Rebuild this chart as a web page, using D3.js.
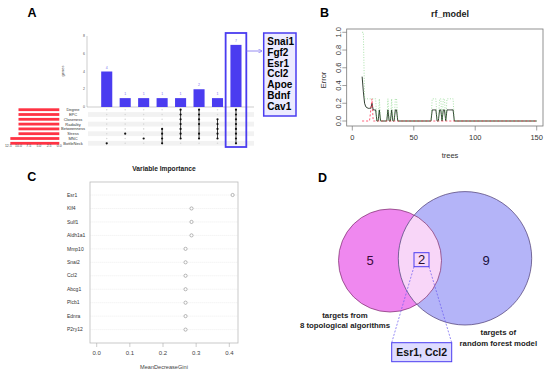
<!DOCTYPE html>
<html>
<head>
<meta charset="utf-8">
<script src="https://cdn.jsdelivr.net/npm/d3@7"></script>
<style>
body { margin: 0; background: #fff; }
svg { display: block; font-family: "Liberation Sans", Arial, sans-serif; }
</style>
</head>
<body>
<svg id="fig" width="550" height="375"></svg>
<script>
/* PANEL A DATA (UPSET PLOT) */
var setNames = ["Degree", "EPC", "Closeness", "Radiality", "Betweenness", "Stress", "MNC", "BottleNeck"];
var setSizes = [10, 10, 10, 10, 10, 10, 12, 12];
var sizeTicks = [12.5, 10, 7.5, 5, 2.5, 0];
var interCounts = [4, 1, 1, 1, 1, 2, 1, 7];
var interSets = [
  ["BottleNeck"],
  ["Stress"],
  ["MNC"],
  ["Betweenness", "Stress", "MNC", "BottleNeck"],
  ["Degree", "EPC", "Closeness", "Radiality", "Betweenness", "Stress", "MNC"],
  ["Degree", "EPC", "Closeness", "Radiality", "Stress", "MNC"],
  ["Closeness", "Radiality", "Betweenness", "Stress", "MNC"],
  ["Degree", "EPC", "Closeness", "Radiality", "Betweenness", "Stress", "MNC", "BottleNeck"]
];
var genesTicks = [0, 2, 4, 6, 8];
var hubGenes = ["Snai1", "Fgf2", "Esr1", "Ccl2", "Apoe", "Bdnf", "Cav1"];

/* PANEL B DATA (RF ERROR BY NUMBER OF TREES) */
var treeIdx   = [8, 9, 10, 11, 12, 13, 14, 15, 16, 17, 18, 19, 20, 21, 22, 23, 28, 29, 30, 31, 32, 33, 34, 35, 36, 37,
                 64, 65, 66, 67, 68, 69, 70, 71, 72, 73, 74, 75, 76, 77, 78, 79, 80, 81, 82, 83, 150];
var oobErr    = [0.5, 0.33, 0.2, 0.16, 0.15, 0.143, 0.143, 0.143, 0.2, 0.125, 0.125, 0.125, 0, 0, 0.125, 0, 0, 0.125, 0, 0, 0.125, 0, 0, 0.125, 0.125, 0,
                 0, 0.125, 0.125, 0.125, 0.125, 0, 0, 0.125, 0.125, 0, 0.125, 0.125, 0, 0.125, 0.125, 0.125, 0.125, 0.125, 0.125, 0, 0];
var errClass1 = [0, 0, 0, 0, 0, 0, 0, 0.12, 0.25, 0, 0, 0, 0, 0, 0, 0, 0, 0, 0, 0, 0, 0, 0, 0, 0, 0,
                 0, 0, 0, 0, 0, 0, 0, 0, 0, 0, 0, 0, 0, 0, 0, 0, 0, 0, 0, 0, 0];
var errClass2 = [1, 1, 0.25, 0.25, 0.25, 0.25, 0.25, 0.25, 0.25, 0.25, 0.25, 0.25, 0, 0, 0.25, 0, 0, 0.25, 0, 0, 0.25, 0, 0, 0.25, 0.25, 0,
                 0, 0.25, 0.25, 0.25, 0.25, 0, 0, 0.25, 0.25, 0, 0.25, 0.25, 0, 0.25, 0.25, 0.25, 0.25, 0.25, 0.25, 0, 0];
var treeTicks = [0, 50, 100, 150];
var errTicks = [0, 0.2, 0.4, 0.6, 0.8, 1.0];

/* PANEL C DATA (VARIABLE IMPORTANCE) */
var impVars = ["Esr1", "Klf4", "Sulf1", "Aldh1a1", "Mmp10", "Snai2", "Ccl2", "Abcg1", "Plcb1", "Ednra", "P2ry12"];
var impGini = [0.41, 0.286, 0.286, 0.286, 0.268, 0.268, 0.268, 0.268, 0.268, 0.268, 0.268];
var giniTicks = [0, 0.1, 0.2, 0.3, 0.4];

/* PANEL D DATA (VENN) */
var vennCounts = { topo: 5, both: 2, rf: 9 };
var sharedGenes = ["Esr1", "Ccl2"];

var blue = "#4a3cf0";
var svg = d3.select("#fig");
svg.append("rect").attr("width", 550).attr("height", 375).attr("fill", "#fff");

function panelLetter(txt, x, y) {
  svg.append("text").attr("x", x).attr("y", y)
    .attr("font-size", 12.5).attr("font-weight", "bold").text(txt);
}

/* ---------- A ---------- */
var gA = svg.append("g");
var colX = d3.scaleBand().domain(d3.range(interCounts.length))
  .range([97.5, 245.2]).paddingInner(0.4).paddingOuter(0.2);
var barY = d3.scaleLinear().domain([0, 8]).range([107, 36]);
var rowY = d3.scalePoint().domain(setNames).range([109.7, 143.3]);
var sizeX = d3.scaleLinear().domain([0, 12.5]).range([59.3, 8.3]);
var rowStep = rowY.step();

// matrix row shading
gA.selectAll("rect.band").data(setNames.filter(function(d, i) { return i % 2 === 1; }))
  .enter().append("rect")
  .attr("x", 88).attr("width", 166)
  .attr("y", function(d) { return rowY(d) - rowStep / 2; })
  .attr("height", rowStep).attr("fill", "#f2f2f2");

// bar axis
gA.append("line").attr("x1", 87).attr("x2", 87).attr("y1", barY(8)).attr("y2", barY(0))
  .attr("stroke", "#999").attr("stroke-width", 0.5);
gA.append("line").attr("x1", 87).attr("x2", 254).attr("y1", barY(0)).attr("y2", barY(0))
  .attr("stroke", "#999").attr("stroke-width", 0.5);
gA.selectAll("text.gt").data(genesTicks).enter().append("text")
  .attr("x", 85).attr("y", function(d) { return barY(d) + 1.2; })
  .attr("text-anchor", "end").attr("font-size", 3.5).attr("fill", "#555")
  .text(function(d) { return d; });
gA.append("text").attr("transform", "translate(64,71) rotate(-90)")
  .attr("text-anchor", "middle").attr("font-size", 4).attr("fill", "#444").text("genes");

// intersection bars
gA.selectAll("rect.bar").data(interCounts).enter().append("rect")
  .attr("x", function(d, i) { return colX(i); })
  .attr("width", colX.bandwidth())
  .attr("y", function(d) { return barY(d); })
  .attr("height", function(d) { return barY(0) - barY(d); })
  .attr("fill", blue);
gA.selectAll("text.bv").data(interCounts).enter().append("text")
  .attr("x", function(d, i) { return colX(i) + colX.bandwidth() / 2; })
  .attr("y", function(d) { return barY(d) - 3; })
  .attr("text-anchor", "middle").attr("font-size", 3.5).attr("fill", "#7a70f0")
  .text(function(d) { return d; });

// matrix dots
interSets.forEach(function(members, i) {
  var cx = colX(i) + colX.bandwidth() / 2;
  setNames.forEach(function(s) {
    var on = members.indexOf(s) >= 0;
    gA.append("circle").attr("cx", cx).attr("cy", rowY(s))
      .attr("r", on ? 1.1 : 0.8).attr("fill", on ? "#111" : "#d8d8d8");
  });
  if (members.length > 1) {
    var ys = members.map(function(s) { return rowY(s); });
    gA.append("line").attr("x1", cx).attr("x2", cx)
      .attr("y1", d3.min(ys)).attr("y2", d3.max(ys))
      .attr("stroke", "#111").attr("stroke-width", 0.8);
  }
});

// set size bars
gA.selectAll("rect.ss").data(setSizes).enter().append("rect")
  .attr("x", function(d) { return sizeX(d); })
  .attr("width", function(d) { return sizeX(0) - sizeX(d); })
  .attr("y", function(d, i) { return rowY(setNames[i]) - 1.4; })
  .attr("height", 2.8).attr("fill", "#ff3344");
gA.selectAll("text.st").data(sizeTicks).enter().append("text")
  .attr("x", function(d) { return sizeX(d); }).attr("y", 147)
  .attr("text-anchor", "middle").attr("font-size", 3.5).attr("fill", "#444")
  .text(d3.format(".1f"));
gA.selectAll("text.sn").data(setNames).enter().append("text")
  .attr("x", 73).attr("y", function(d) { return rowY(d) + 1.4; })
  .attr("text-anchor", "middle").attr("font-size", 4).attr("fill", "#333")
  .text(function(d) { return d; });

// highlight of the full intersection
var last = interCounts.length - 1;
gA.append("rect").attr("x", colX(last) - 4.8).attr("y", 33)
  .attr("width", colX.bandwidth() + 9.6).attr("height", 114)
  .attr("fill", "none").attr("stroke", blue).attr("stroke-width", 1.8);

svg.append("defs").append("marker").attr("id", "arr")
  .attr("viewBox", "0 0 10 10").attr("refX", 9).attr("refY", 5)
  .attr("markerWidth", 5).attr("markerHeight", 5).attr("orient", "auto")
  .append("path").attr("d", "M0,0L10,5L0,10").attr("fill", "none")
  .attr("stroke", "#8a80f0").attr("stroke-width", 1.5);
gA.append("line").attr("x1", 246.5).attr("x2", 262).attr("y1", 51).attr("y2", 51)
  .attr("stroke", "#8a80f0").attr("stroke-width", 0.9).attr("marker-end", "url(#arr)");

gA.append("rect").attr("x", 263.7).attr("y", 33).attr("width", 32.3).attr("height", 83)
  .attr("fill", "#ecebff").attr("stroke", blue).attr("stroke-width", 1.5);
gA.selectAll("text.hub").data(hubGenes).enter().append("text")
  .attr("x", 267.3).attr("y", function(d, i) { return 45.3 + i * 10.7; })
  .attr("font-size", 10).attr("font-weight", "bold").attr("fill", "#000")
  .text(function(d) { return d; });

panelLetter("A", 27.5, 17.3);

/* ---------- B ---------- */
var gB = svg.append("g");
var bx = d3.scaleLinear().domain([0, 150]).range([352.3, 536.7]);
var by = d3.scaleLinear().domain([0, 1]).range([121, 32.3]);

gB.append("rect").attr("x", 346.7).attr("y", 29).attr("width", 196.3).attr("height", 97)
  .attr("fill", "none").attr("stroke", "#777").attr("stroke-width", 0.8);

gB.selectAll("line.xt").data(treeTicks).enter().append("line")
  .attr("x1", bx).attr("x2", bx).attr("y1", 126).attr("y2", 130.5)
  .attr("stroke", "#777").attr("stroke-width", 0.7);
gB.selectAll("text.xt").data(treeTicks).enter().append("text")
  .attr("x", bx).attr("y", 139.5).attr("text-anchor", "middle")
  .attr("font-size", 7.5).attr("fill", "#333").text(function(d) { return d; });
gB.selectAll("line.yt").data(errTicks).enter().append("line")
  .attr("x1", 346.7).attr("x2", 342.3).attr("y1", by).attr("y2", by)
  .attr("stroke", "#777").attr("stroke-width", 0.7);
gB.selectAll("text.yt").data(errTicks).enter().append("text")
  .attr("transform", function(d) { return "translate(338," + by(d) + ") rotate(-90)"; })
  .attr("dy", "0.35em").attr("text-anchor", "middle")
  .attr("font-size", 7.5).attr("fill", "#333").text(d3.format(".1f"));

gB.append("text").attr("x", 450).attr("y", 16.5).attr("text-anchor", "middle")
  .attr("font-size", 9).attr("font-weight", "bold").attr("fill", "#222").text("rf_model");
gB.append("text").attr("x", 450).attr("y", 157.5).attr("text-anchor", "middle")
  .attr("font-size", 7.5).attr("fill", "#333").text("trees");
gB.append("text").attr("transform", "translate(323,80) rotate(-90)")
  .attr("dy", "0.35em").attr("text-anchor", "middle")
  .attr("font-size", 7.5).attr("fill", "#333").text("Error");

function errLine(vals) {
  return d3.line()
    .x(function(d, i) { return bx(treeIdx[i]); })
    .y(function(d) { return by(d); })(vals);
}
gB.append("path").attr("d", errLine(oobErr)).attr("fill", "none")
  .attr("stroke", "#1c2a1c").attr("stroke-width", 0.9);
gB.append("path").attr("d", errLine(errClass1)).attr("fill", "none")
  .attr("stroke", "#ff3050").attr("stroke-width", 0.8).attr("stroke-dasharray", "2,2");
gB.append("path").attr("d", errLine(errClass2)).attr("fill", "none")
  .attr("stroke", "#70cc70").attr("stroke-width", 0.8).attr("stroke-dasharray", "1,1.6")
  .attr("opacity", 0.75);

panelLetter("B", 320, 17.3);

/* ---------- C ---------- */
var gC = svg.append("g");
var cx = d3.scaleLinear().domain([0, 0.4]).range([96.7, 229.3]);
var cy = d3.scalePoint().domain(impVars).range([195, 329.6]);

gC.append("text").attr("x", 164).attr("y", 170.5).attr("text-anchor", "middle")
  .attr("font-size", 6.7).attr("font-weight", "bold").attr("fill", "#222").text("Variable Importance");
gC.append("rect").attr("x", 90).attr("y", 182).attr("width", 148).attr("height", 161)
  .attr("fill", "none").attr("stroke", "#bbb").attr("stroke-width", 0.8);
gC.selectAll("line.dl").data(impVars).enter().append("line")
  .attr("x1", 90.5).attr("x2", 237.5).attr("y1", cy).attr("y2", cy)
  .attr("stroke", "#d4d4d4").attr("stroke-width", 0.5).attr("stroke-dasharray", "0.8,1.2");
gC.selectAll("circle.pt").data(impGini).enter().append("circle")
  .attr("cx", function(d) { return cx(d); })
  .attr("cy", function(d, i) { return cy(impVars[i]); })
  .attr("r", 1.6).attr("fill", "#fff").attr("stroke", "#888").attr("stroke-width", 0.6);
gC.selectAll("text.vn").data(impVars).enter().append("text")
  .attr("x", 67).attr("y", function(d) { return cy(d) + 1.7; })
  .attr("font-size", 5).attr("fill", "#333").text(function(d) { return d; });
gC.selectAll("line.ct").data(giniTicks).enter().append("line")
  .attr("x1", cx).attr("x2", cx).attr("y1", 343).attr("y2", 347)
  .attr("stroke", "#aaa").attr("stroke-width", 0.6);
gC.selectAll("text.ct").data(giniTicks).enter().append("text")
  .attr("x", cx).attr("y", 354.8).attr("text-anchor", "middle")
  .attr("font-size", 6).attr("fill", "#444").text(d3.format(".1f"));
gC.append("text").attr("x", 164).attr("y", 369).attr("text-anchor", "middle")
  .attr("font-size", 5.6).attr("fill", "#444").text("MeanDecreaseGini");

panelLetter("C", 27.3, 180.7);

/* ---------- D ---------- */
var gD = svg.append("g");
var pinkC = { x: 390, y: 260.5, r: 51.5 };
var blueC = { x: 465, y: 258.3, r: 66.7 };

gD.append("clipPath").attr("id", "clipPink").append("circle")
  .attr("cx", pinkC.x).attr("cy", pinkC.y).attr("r", pinkC.r);
gD.append("circle").attr("cx", pinkC.x).attr("cy", pinkC.y).attr("r", pinkC.r)
  .attr("fill", "#ef88ef");
gD.append("circle").attr("cx", blueC.x).attr("cy", blueC.y).attr("r", blueC.r)
  .attr("fill", "#b4b4f8");
gD.append("circle").attr("cx", blueC.x).attr("cy", blueC.y).attr("r", blueC.r)
  .attr("clip-path", "url(#clipPink)").attr("fill", "#f8d6f8");
gD.append("circle").attr("cx", pinkC.x).attr("cy", pinkC.y).attr("r", pinkC.r)
  .attr("fill", "none").attr("stroke", "#7a2a6a").attr("stroke-width", 0.7);
gD.append("circle").attr("cx", blueC.x).attr("cy", blueC.y).attr("r", blueC.r)
  .attr("fill", "none").attr("stroke", "#4a3a70").attr("stroke-width", 0.7);

gD.append("text").attr("x", 370).attr("y", 265).attr("text-anchor", "middle")
  .attr("font-size", 13).attr("fill", "#3a0a3a").text(vennCounts.topo);
gD.append("text").attr("x", 486).attr("y", 265).attr("text-anchor", "middle")
  .attr("font-size", 13).attr("fill", "#1a1040").text(vennCounts.rf);
gD.append("rect").attr("x", 414).attr("y", 252.7).attr("width", 15).attr("height", 14)
  .attr("fill", "none").attr("stroke", blue).attr("stroke-width", 1);
gD.append("text").attr("x", 421.5).attr("y", 264.3).attr("text-anchor", "middle")
  .attr("font-size", 13).attr("fill", "#2a1030").text(vennCounts.both);

gD.append("line").attr("x1", 414).attr("y1", 266.7).attr("x2", 391.7).attr("y2", 342.7)
  .attr("stroke", "#6a5af0").attr("stroke-width", 0.7).attr("stroke-dasharray", "2,1.5");
gD.append("line").attr("x1", 429).attr("y1", 266.7).attr("x2", 451.7).attr("y2", 342.7)
  .attr("stroke", "#6a5af0").attr("stroke-width", 0.7).attr("stroke-dasharray", "2,1.5");
gD.append("rect").attr("x", 391.7).attr("y", 342.7).attr("width", 60).attr("height", 19)
  .attr("fill", "#dedcff").attr("stroke", blue).attr("stroke-width", 1);
gD.append("text").attr("x", 421.7).attr("y", 356).attr("text-anchor", "middle")
  .attr("font-size", 10.5).attr("font-weight", "bold").attr("fill", "#111")
  .text(sharedGenes.join(", "));

gD.selectAll("text.lt").data(["targets from", "8 topological algorithms"]).enter().append("text")
  .attr("x", 345).attr("y", function(d, i) { return 318 + i * 10; })
  .attr("text-anchor", "middle").attr("font-size", 7.8).attr("font-weight", "bold")
  .attr("fill", "#222").text(function(d) { return d; });
gD.selectAll("text.lr").data(["targets of", "random forest model"]).enter().append("text")
  .attr("x", 498.3).attr("y", function(d, i) { return 334.5 + i * 11.5; })
  .attr("text-anchor", "middle").attr("font-size", 7.8).attr("font-weight", "bold")
  .attr("fill", "#222").text(function(d) { return d; });

panelLetter("D", 318, 181.7);
</script>
</body>
</html>
